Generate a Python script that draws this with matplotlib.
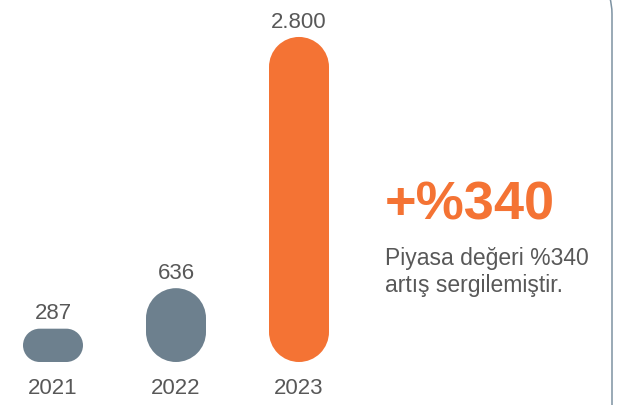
import matplotlib
matplotlib.use("Agg")
import matplotlib.pyplot as plt
import numpy as np
from matplotlib.path import Path
from matplotlib.patches import PathPatch, FancyBboxPatch
from matplotlib.transforms import IdentityTransform

# ---- data ----
years = ["2021", "2022", "2023"]
values = [287, 636, 2800]
headline = "+%340"
note_lines = ["Piyasa değeri %340", "artış sergilemiştir."]

# ---- style ----
GREY = "#6d808e"
ORANGE = "#f47334"
TEXT = "#585858"
BORDER = "#7d92a2"
bar_colors = [GREY, GREY, ORANGE]

plt.rcParams["font.family"] = ["Liberation Sans", "DejaVu Sans"]

W, H, DPI = 622, 406, 100
fig = plt.figure(figsize=(W / DPI, H / DPI), dpi=DPI)
fig.patch.set_facecolor("white")

base_px = 363          # baseline of bars, px from top
first_px, step_px = 53, 123
ymax = 3127

ax = fig.add_axes([0, (H - base_px) / H, 1, base_px / H])
ax.set_xlim(-first_px / step_px, (W - first_px) / step_px)
ax.set_ylim(0, ymax)
ax.set_frame_on(False)
ax.patch.set_alpha(0)
sx = step_px
sy = base_px / ymax

x = np.arange(len(years))
bars = ax.bar(x, values, width=60 / step_px, color=bar_colors)


def rounded_path(x0, y0, w, h, rx, ry):
    centers = [((x0 + w - rx, y0 + h - ry), 0, 90),
               ((x0 + rx, y0 + h - ry), 90, 180),
               ((x0 + rx, y0 + ry), 180, 270),
               ((x0 + w - rx, y0 + ry), 270, 360)]
    verts, codes = [], []
    for i, (c, t1, t2) in enumerate(centers):
        a = Path.arc(t1, t2)
        v = a.vertices * np.array([rx, ry]) + np.array(c)
        cd = a.codes.copy()
        if i > 0:
            cd[0] = Path.LINETO
        verts.extend(v.tolist())
        codes.extend(cd.tolist())
    verts.append(verts[0])
    codes.append(Path.CLOSEPOLY)
    return Path(verts, codes)


for rect, c in zip(bars, bar_colors):
    x0, y0 = rect.get_x(), rect.get_y()
    w, h = rect.get_width(), rect.get_height()
    r_px = min(w * sx, h * sy) / 2
    p = rounded_path(x0, y0, w, h, r_px / sx, r_px / sy)
    rect.set_visible(False)
    ax.add_patch(PathPatch(p, facecolor=c, edgecolor="none"))

for xi, v in zip(x, values):
    ax.annotate(f"{v:,}".replace(",", "."), (xi, v), xytext=(0, 7.5),
                textcoords="offset points", ha="center", va="baseline",
                fontsize=16, color=TEXT)

ax.set_xticks(x, years)
ax.set_yticks([])
ax.tick_params(axis="x", length=0, pad=11, labelsize=16, labelcolor=TEXT)

# headline + note
fig.text(385 / W, (H - 220) / H, headline, fontsize=39, fontweight="bold",
         color=ORANGE, ha="left", va="baseline")
fig.text(385 / W, (H - 265) / H, note_lines[0], fontsize=16.5, color=TEXT,
         ha="left", va="baseline")
fig.text(385 / W, (H - 292) / H, note_lines[1], fontsize=16.5, color=TEXT,
         ha="left", va="baseline")

# rounded panel border on the right
border = FancyBboxPatch((-200, -100), 812, 530,
                        boxstyle="round,pad=0,rounding_size=39",
                        transform=IdentityTransform(), facecolor="none",
                        edgecolor=BORDER, linewidth=1.1)
fig.add_artist(border)

fig.savefig("out.png", dpi=DPI)
